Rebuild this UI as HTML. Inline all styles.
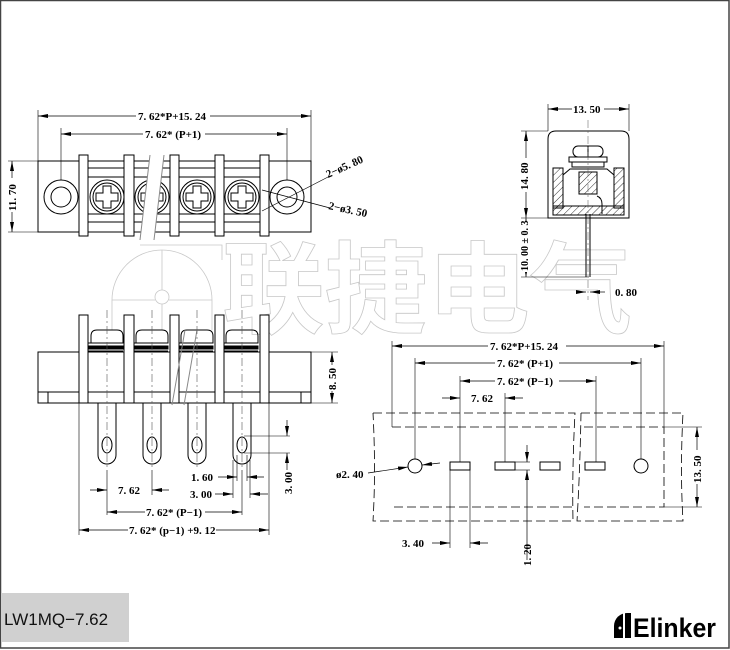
<!DOCTYPE html>
<html><head><meta charset="utf-8"><style>
html,body{margin:0;padding:0;background:#fff}
svg{display:block}
text{font-family:"Liberation Serif",serif;font-weight:bold;font-size:11px;fill:#000}
</style></head><body>
<svg width="730" height="650" viewBox="0 0 730 650" xmlns="http://www.w3.org/2000/svg">
<defs>
<marker id="a" markerWidth="10" markerHeight="6" refX="10" refY="3" orient="auto-start-reverse" markerUnits="userSpaceOnUse"><path d="M0,1 L10,3 L0,5Z" fill="#000"/></marker>
<pattern id="h" width="5" height="5" patternUnits="userSpaceOnUse" patternTransform="rotate(45)"><line x1="0" y1="0" x2="0" y2="5" stroke="#000" stroke-width="0.8"/></pattern>
</defs>
<rect x="0.5" y="0.5" width="728.5" height="647.5" fill="#fff" stroke="#444" stroke-width="1.5"/>

<!-- watermark -->
<g fill="none" stroke="#c8c8c8" stroke-width="0.8">
<path d="M112,330 L112,300 A50,50 0 1 1 212,300 L212,330"/>
<path d="M162,250 L162,290 M162,304 L162,330 M112,300 L155,300 M169,300 L212,300"/>
<circle cx="162" cy="297" r="7"/>
<path d="M140,245 L222,245 L222,260"/>
<text x="222" y="325" style="font-family:'Noto Sans CJK SC',sans-serif;font-weight:bold;font-size:100px;fill:none;stroke:#c8c8c8;stroke-width:0.8" textLength="410" lengthAdjust="spacingAndGlyphs">联捷电气</text>
</g>

<g fill="none" stroke="#000" stroke-width="1">
<!-- TOP VIEW -->
<rect x="38" y="161" width="273" height="71"/>
<rect x="88" y="168" width="172" height="54"/>
<line x1="88" y1="177" x2="260" y2="177"/><line x1="88" y1="214" x2="260" y2="214"/>
<circle cx="61" cy="197" r="17"/><circle cx="61" cy="197" r="10"/>
<circle cx="287" cy="197" r="17"/><circle cx="287" cy="197" r="10"/>
<g id="scr"><circle cx="107" cy="197" r="17"/><circle cx="107" cy="197" r="14"/>
<path d="M103,186 h8 v7 h7 v8 h-7 v7 h-8 v-7 h-7 v-8 h7z"/></g>
<use href="#scr" x="45"/><use href="#scr" x="90"/><use href="#scr" x="135"/>
<rect x="79" y="155" width="9" height="81" fill="#fff"/>
<rect x="124" y="155" width="10" height="81" fill="#fff"/>
<rect x="170" y="155" width="9" height="81" fill="#fff"/>
<rect x="215" y="155" width="9" height="81" fill="#fff"/>
<rect x="260" y="155" width="9" height="81" fill="#fff"/>
<polygon points="150,155 164,155 154,240 140,240" fill="#fff" stroke="none"/>
<path d="M150,155 L140,240 M164,155 L154,240" stroke="#888"/>
<line x1="38" y1="110" x2="38" y2="161" stroke-width="0.6"/><line x1="311" y1="110" x2="311" y2="161" stroke-width="0.6"/>
<line x1="61" y1="128" x2="61" y2="180" stroke-width="0.6"/><line x1="287" y1="128" x2="287" y2="180" stroke-width="0.6"/>
<line x1="38" y1="116" x2="311" y2="116" marker-start="url(#a)" marker-end="url(#a)" stroke-width="0.7"/>
<line x1="61" y1="134" x2="287" y2="134" marker-start="url(#a)" marker-end="url(#a)" stroke-width="0.7"/>
<line x1="8" y1="161" x2="38" y2="161" stroke-width="0.6"/><line x1="8" y1="232" x2="38" y2="232" stroke-width="0.6"/>
<line x1="12" y1="161" x2="12" y2="232" marker-start="url(#a)" marker-end="url(#a)" stroke-width="0.7"/>
<line x1="262" y1="211" x2="330" y2="176" stroke-width="0.7"/>
<line x1="262" y1="190" x2="330" y2="208" stroke-width="0.7"/>

<!-- FRONT VIEW -->
<rect x="38" y="352" width="273" height="51"/>
<path d="M38,392 H311 M48,392 V403 M301,392 V403"/>
<g id="cap"><path d="M91,343 V336 Q91,330 97,330 H117 Q123,330 123,336 V343 Z"/><line x1="88" y1="343" x2="123" y2="343"/><rect x="88" y="346" width="35" height="3" fill="#000"/><line x1="88" y1="351" x2="123" y2="351"/></g>
<use href="#cap" x="45"/><use href="#cap" x="90"/><use href="#cap" x="135"/>
<rect x="79" y="315" width="9" height="88" fill="#fff"/>
<rect x="124" y="315" width="10" height="88" fill="#fff"/>
<rect x="170" y="315" width="9" height="88" fill="#fff"/>
<rect x="215" y="315" width="9" height="88" fill="#fff"/>
<rect x="260" y="315" width="9" height="88" fill="#fff"/>
<g id="pin"><path d="M98,403 V455 A9,9 0 0 0 116,455 V403"/><ellipse cx="107" cy="445" rx="5" ry="8"/></g>
<use href="#pin" x="45"/><use href="#pin" x="90"/><use href="#pin" x="135"/>
<path d="M185,330 L172,405 M197,330 L184,405" stroke="#888"/>
<g stroke-width="0.6" stroke-dasharray="8,3,2,3" stroke="#555">
<line x1="107" y1="310" x2="107" y2="470"/><line x1="152" y1="310" x2="152" y2="470"/><line x1="197" y1="310" x2="197" y2="470"/><line x1="242" y1="310" x2="242" y2="470"/>
</g>
<line x1="311" y1="352" x2="338" y2="352" stroke-width="0.6"/><line x1="311" y1="403" x2="338" y2="403" stroke-width="0.6"/>
<line x1="332" y1="352" x2="332" y2="403" marker-start="url(#a)" marker-end="url(#a)" stroke-width="0.7"/>
<line x1="244" y1="436" x2="290" y2="436" stroke-width="0.6"/><line x1="244" y1="453" x2="290" y2="453" stroke-width="0.6"/>
<line x1="287" y1="420" x2="287" y2="436" marker-end="url(#a)" stroke-width="0.7"/>
<line x1="287" y1="470" x2="287" y2="453" marker-end="url(#a)" stroke-width="0.7"/>
<g stroke-width="0.6">
<line x1="79" y1="403" x2="79" y2="535"/><line x1="269" y1="403" x2="269" y2="535"/>
<line x1="233" y1="460" x2="233" y2="498"/><line x1="250" y1="460" x2="250" y2="498"/>
<line x1="237" y1="455" x2="237" y2="481"/><line x1="247" y1="455" x2="247" y2="481"/>
<line x1="107" y1="470" x2="107" y2="515"/><line x1="152" y1="470" x2="152" y2="495"/><line x1="242" y1="470" x2="242" y2="515"/>
</g>
<line x1="90" y1="490" x2="107" y2="490" marker-end="url(#a)" stroke-width="0.7"/>
<line x1="169" y1="490" x2="152" y2="490" marker-end="url(#a)" stroke-width="0.7"/>
<line x1="107" y1="512" x2="242" y2="512" marker-start="url(#a)" marker-end="url(#a)" stroke-width="0.7"/>
<line x1="79" y1="530" x2="269" y2="530" marker-start="url(#a)" marker-end="url(#a)" stroke-width="0.7"/>
<line x1="218" y1="477" x2="237" y2="477" marker-end="url(#a)" stroke-width="0.7"/>
<line x1="264" y1="477" x2="247" y2="477" marker-end="url(#a)" stroke-width="0.7"/>
<line x1="215" y1="494" x2="233" y2="494" marker-end="url(#a)" stroke-width="0.7"/>
<line x1="268" y1="494" x2="250" y2="494" marker-end="url(#a)" stroke-width="0.7"/>

<!-- SIDE VIEW -->
<path d="M548,218 V139 Q548,131 556,131 H621 Q629,131 629,139 V218 Z"/>
<rect x="553" y="168" width="10" height="40" fill="url(#h)"/>
<rect x="614" y="168" width="10" height="40" fill="url(#h)"/>
<rect x="553" y="206" width="71" height="9" fill="url(#h)"/>
<path d="M563,206 V175 L570,169 H607 L614,175 V206"/>
<rect x="573" y="146" width="30" height="11" rx="5"/><line x1="588" y1="146" x2="588" y2="157"/>
<rect x="569" y="157" width="38" height="5"/>
<rect x="572" y="162" width="32" height="5"/>
<rect x="579" y="172" width="18" height="22" fill="url(#h)"/>
<path d="M597,196 Q602,198 602,204 V214 M586,214 V277 M590,214 V277"/>
<line x1="588" y1="120" x2="588" y2="300" stroke-width="0.5" stroke-dasharray="8,3,2,3" stroke="#555"/>
<line x1="548" y1="104" x2="548" y2="131" stroke-width="0.6"/><line x1="629" y1="104" x2="629" y2="131" stroke-width="0.6"/>
<line x1="548" y1="109" x2="629" y2="109" marker-start="url(#a)" marker-end="url(#a)" stroke-width="0.7"/>
<line x1="521" y1="131" x2="548" y2="131" stroke-width="0.6"/><line x1="521" y1="218" x2="548" y2="218" stroke-width="0.6"/><line x1="521" y1="277" x2="589" y2="277" stroke-width="0.6"/>
<line x1="526" y1="131" x2="526" y2="218" marker-start="url(#a)" marker-end="url(#a)" stroke-width="0.7"/>
<line x1="526" y1="218" x2="526" y2="277" marker-start="url(#a)" marker-end="url(#a)" stroke-width="0.7"/>
<line x1="576" y1="292" x2="586" y2="292" marker-end="url(#a)" stroke-width="0.7"/>
<line x1="605" y1="292" x2="590" y2="292" marker-end="url(#a)" stroke-width="0.7"/>

<!-- FOOTPRINT -->
<g stroke-dasharray="9,4" stroke-width="0.8">
<path d="M373,413 H575 Q572,470 573,521 H373 Q376,470 373,413"/>
<path d="M581,413 H683 Q680,470 683,521 H577 Q580,470 581,413"/>
<path d="M392,427 H572 M584,427 H664 V507 H584 M572,507 H392 Z"/>
</g>
<circle cx="415" cy="466" r="7"/><circle cx="641" cy="466" r="7"/>
<rect x="450" y="462" width="20" height="8"/><rect x="495" y="462" width="20" height="8"/>
<rect x="540" y="462" width="20" height="8"/><rect x="585" y="462" width="20" height="8"/>
<g stroke-width="0.6">
<line x1="392" y1="341" x2="392" y2="427"/><line x1="664" y1="341" x2="664" y2="427"/>
<line x1="415" y1="358" x2="415" y2="459"/><line x1="641" y1="358" x2="641" y2="459"/>
<line x1="460" y1="376" x2="460" y2="462"/><line x1="596" y1="376" x2="596" y2="462"/>
<line x1="505" y1="393" x2="505" y2="462"/>
<line x1="450" y1="470" x2="450" y2="548"/><line x1="470" y1="470" x2="470" y2="548"/>
<line x1="664" y1="427" x2="702" y2="427"/><line x1="664" y1="507" x2="702" y2="507"/>
<line x1="515" y1="462" x2="530" y2="462"/><line x1="515" y1="470" x2="530" y2="470"/>
</g>
<line x1="392" y1="346" x2="664" y2="346" marker-start="url(#a)" marker-end="url(#a)" stroke-width="0.7"/>
<line x1="415" y1="363" x2="641" y2="363" marker-start="url(#a)" marker-end="url(#a)" stroke-width="0.7"/>
<line x1="460" y1="381" x2="596" y2="381" marker-start="url(#a)" marker-end="url(#a)" stroke-width="0.7"/>
<line x1="442" y1="398" x2="460" y2="398" marker-end="url(#a)" stroke-width="0.7"/>
<line x1="523" y1="398" x2="505" y2="398" marker-end="url(#a)" stroke-width="0.7"/>
<line x1="697" y1="427" x2="697" y2="507" marker-start="url(#a)" marker-end="url(#a)" stroke-width="0.7"/>
<line x1="432" y1="543" x2="450" y2="543" marker-end="url(#a)" stroke-width="0.7"/>
<line x1="488" y1="543" x2="470" y2="543" marker-end="url(#a)" stroke-width="0.7"/>
<line x1="527" y1="445" x2="527" y2="462" marker-end="url(#a)" stroke-width="0.7"/>
<line x1="527" y1="560" x2="527" y2="470" marker-end="url(#a)" stroke-width="0.7"/>
<line x1="368" y1="473" x2="408" y2="467" marker-end="url(#a)" stroke-width="0.7"/>
<line x1="440" y1="463" x2="422" y2="465" marker-end="url(#a)" stroke-width="0.7"/>
</g>

<!-- TEXT -->
<g>
<rect x="136" y="110" width="74" height="12" fill="#fff"/><text x="138" y="120">7. 62*P+15. 24</text>
<rect x="143" y="128" width="62" height="12" fill="#fff"/><text x="145" y="138">7. 62* (P+1)</text>
<rect x="6" y="178" width="12" height="34" fill="#fff"/><text transform="translate(16,211) rotate(-90)">11. 70</text>
<text transform="translate(328,178) rotate(-24)">2−ø5. 80</text>
<text transform="translate(328,209) rotate(12)">2−ø3. 50</text>
<rect x="326" y="365" width="12" height="26" fill="#fff"/><text transform="translate(336,390) rotate(-90)">8. 50</text>
<rect x="117" y="484" width="26" height="12" fill="#fff"/><text x="118" y="494">7. 62</text>
<rect x="145" y="506" width="60" height="12" fill="#fff"/><text x="146" y="516">7. 62* (P−1)</text>
<rect x="128" y="524" width="88" height="12" fill="#fff"/><text x="129" y="534">7. 62* (p−1) +9. 12</text>
<text x="191" y="481">1. 60</text>
<text x="190" y="498">3. 00</text>
<text transform="translate(292,494) rotate(-90)">3. 00</text>
<rect x="572" y="103" width="32" height="12" fill="#fff"/><text x="573" y="113">13. 50</text>
<rect x="518" y="158" width="12" height="34" fill="#fff"/><text transform="translate(528,190) rotate(-90)">14. 80</text>
<rect x="518" y="222" width="12" height="50" fill="#fff"/><text transform="translate(528,271) rotate(-90)" style="font-size:10px">10. 00 ± 0. 3</text>
<text x="615" y="296">0. 80</text>
<rect x="488" y="340" width="78" height="12" fill="#fff"/><text x="490" y="350">7. 62*P+15. 24</text>
<rect x="495" y="357" width="64" height="12" fill="#fff"/><text x="497" y="367">7. 62* (P+1)</text>
<rect x="495" y="375" width="64" height="12" fill="#fff"/><text x="497" y="385">7. 62* (P−1)</text>
<rect x="469" y="392" width="29" height="12" fill="#fff"/><text x="471" y="402">7. 62</text>
<rect x="691" y="450" width="12" height="34" fill="#fff"/><text transform="translate(701,483) rotate(-90)">13. 50</text>
<text x="336" y="478">ø2. 40</text>
<text x="402" y="547">3. 40</text>
<text transform="translate(531,566) rotate(-90)">1. 20</text>
</g>

<!-- footer -->
<rect x="2" y="593" width="127" height="49" fill="#d0d0d0"/>
<text x="4" y="625" style="font-family:'Liberation Sans',sans-serif;font-weight:normal;font-size:17px;fill:#111">LW1MQ−7.62</text>
<path d="M614,638 V626 A13,13 0 0 1 627,613 H631 V638 Z" fill="#000"/>
<rect x="623" y="613" width="2" height="25" fill="#fff"/>
<circle cx="620" cy="628" r="1.5" fill="#fff"/>
<text x="633" y="637" style="font-family:'Liberation Sans',sans-serif;font-weight:bold;font-size:27px" textLength="83" lengthAdjust="spacingAndGlyphs">Elinker</text>
</svg>
</body></html>
